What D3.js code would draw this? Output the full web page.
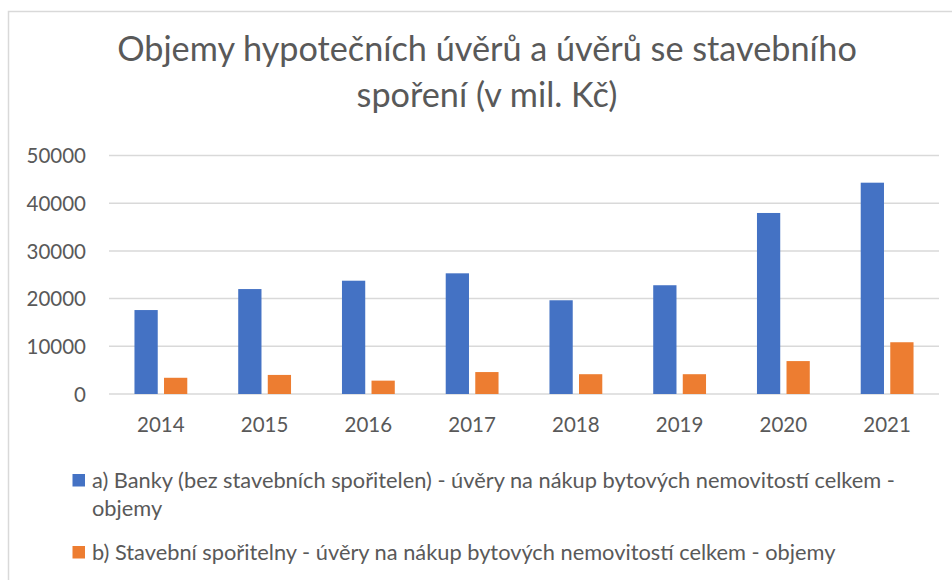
<!DOCTYPE html>
<html>
<head>
<meta charset="utf-8">
<script src="https://cdn.jsdelivr.net/npm/d3@7.9.0/dist/d3.min.js"></script>
<style>
  html, body { margin: 0; padding: 0; background: #fff; }
  svg { display: block; font-family: Lato, "Open Sans", sans-serif; }
</style>
</head>
<body>
<svg id="chart" width="952" height="580"></svg>
<script>
// chart data
const years = ["2014", "2015", "2016", "2017", "2018", "2019", "2020", "2021"];
const banky = [17600, 22000, 23750, 25300, 19650, 22800, 37950, 44300];
const sporitelny = [3400, 4000, 2800, 4600, 4150, 4150, 6900, 10850];
const seriesNames = ["banky", "sporitelny"];
const yTicks = [0, 10000, 20000, 30000, 40000, 50000];
const titleLines = ["Objemy hypotečních úvěrů a úvěrů se stavebního", "spoření (v mil. Kč)"];
const legendLines = [
    ["a) Banky (bez stavebních spořitelen) - úvěry na nákup bytových nemovitostí celkem -", "objemy"],
    ["b) Stavební spořitelny - úvěry na nákup bytových nemovitostí celkem - objemy"]
];

const colors = ["#4472C4", "#ED7D31"];
const textColor = "#595959";
const gridColor = "#d9d9d9";

const svg = d3.select("#chart");

// outer chart border (runs off the right and bottom edge)
svg.append("rect")
    .attr("x", 8.5).attr("y", 11.5)
    .attr("width", 1000).attr("height", 1000)
    .attr("fill", "#fff")
    .attr("stroke", gridColor)
    .attr("stroke-width", 1.5);

// scale font size so a text spans a given width
function fitWidth(sel, target) {
    let node = sel.node();
    let size = parseFloat(sel.attr("font-size"));
    let w = node.getComputedTextLength();
    sel.attr("font-size", size * target / w);
}

// title
let t1 = svg.append("text")
    .attr("x", 487).attr("y", 61)
    .attr("text-anchor", "middle")
    .attr("font-size", 30)
    .attr("fill", textColor)
    .text(titleLines[0]);
fitWidth(t1, 740);
svg.append("text")
    .attr("x", 487).attr("y", 107)
    .attr("text-anchor", "middle")
    .attr("font-size", t1.attr("font-size"))
    .attr("fill", textColor)
    .text(titleLines[1]);

// scales
const x = d3.scaleBand()
    .domain(years)
    .range([109, 939])
    .paddingInner(0.491)
    .paddingOuter(0.2455);

const xInner = d3.scaleBand()
    .domain(seriesNames)
    .range([0, x.bandwidth()])
    .paddingInner(0.2126);

const y = d3.scaleLinear()
    .domain([0, 50000])
    .range([394, 155.5]);

// gridlines
svg.append("g")
    .selectAll("line")
    .data(yTicks)
    .join("line")
    .attr("x1", 109).attr("x2", 939)
    .attr("y1", d => y(d)).attr("y2", d => y(d))
    .attr("stroke", gridColor)
    .attr("stroke-width", 1.5);

// y axis labels
const yAxis = svg.append("g")
    .attr("transform", "translate(86,0)")
    .call(d3.axisLeft(y).tickValues(yTicks).tickSize(0).tickPadding(0).tickFormat(d3.format("d")));
yAxis.select(".domain").remove();
yAxis.selectAll("text")
    .attr("font-family", "Lato, 'Open Sans', sans-serif")
    .attr("font-size", 20.5)
    .attr("fill", textColor)
    .attr("dy", "0.36em");

// bars
const rows = years.map((yr, i) => ({ year: yr, values: [banky[i], sporitelny[i]] }));

const groups = svg.append("g")
    .selectAll("g")
    .data(rows)
    .join("g")
    .attr("transform", d => `translate(${x(d.year)},0)`);

groups.selectAll("rect")
    .data(d => d.values.map((v, k) => ({ key: seriesNames[k], value: v, k: k })))
    .join("rect")
    .attr("x", d => xInner(d.key))
    .attr("width", xInner.bandwidth())
    .attr("y", d => y(d.value))
    .attr("height", d => y(0) - y(d.value))
    .attr("fill", d => colors[d.k]);

// x axis labels
const xAxis = svg.append("g")
    .attr("transform", "translate(0,418)")
    .call(d3.axisBottom(x).tickSize(0).tickPadding(0));
xAxis.select(".domain").remove();
xAxis.selectAll("text")
    .attr("font-family", "Lato, 'Open Sans', sans-serif")
    .attr("font-size", 20.5)
    .attr("fill", textColor)
    .attr("dy", "0.36em")
    .attr("y", 7);

// legend
const legendY = [480, 552];
const legend = svg.append("g");
legendLines.forEach((lines, i) => {
    legend.append("rect")
        .attr("x", 72.5).attr("y", legendY[i] - 6)
        .attr("width", 12.5).attr("height", 12.5)
        .attr("fill", colors[i]);
    let txt = legend.append("text")
        .attr("x", 92).attr("y", legendY[i])
        .attr("font-size", 21.8)
        .attr("fill", textColor);
    lines.forEach((ln, j) => {
        txt.append("tspan")
            .attr("x", 92)
            .attr("dy", j === 0 ? "0.36em" : 28)
            .text(ln);
    });
});
</script>
</body>
</html>
